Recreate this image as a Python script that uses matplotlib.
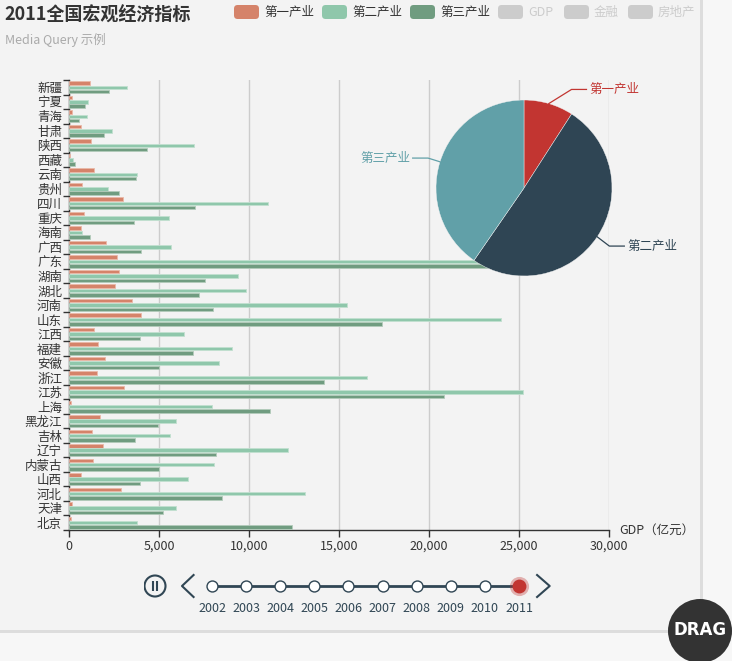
import matplotlib
matplotlib.use('Agg')
import matplotlib.pyplot as plt
from matplotlib.patches import FancyBboxPatch, Rectangle, Circle
import numpy as np

plt.rcParams['font.family'] = ['Noto Sans CJK SC', 'DejaVu Sans']

W, H = 732, 661

# 2011 data, provinces listed bottom -> top
provinces = ['北京', '天津', '河北', '山西', '内蒙古', '辽宁', '吉林', '黑龙江', '上海', '江苏',
             '浙江', '安徽', '福建', '江西', '山东', '河南', '湖北', '湖南', '广东', '广西',
             '海南', '重庆', '四川', '贵州', '云南', '西藏', '陕西', '甘肃', '青海', '宁夏', '新疆']
primary = [136.27, 159.72, 2905.73, 641.42, 1306.3, 1915.57, 1277.44, 1701.5, 124.94, 3064.78,
           1583.04, 2015.31, 1612.24, 1391.07, 3973.85, 3512.24, 2569.3, 2768.03, 2665.2, 2047.23,
           659.23, 844.52, 2983.51, 726.22, 1411.01, 74.47, 1220.9, 678.75, 155.08, 184.14, 1139.03]
secondary = [3752.48, 5928.32, 13126.86, 6635.26, 8037.69, 12152.15, 5611.48, 5962.41, 7927.89, 25203.28,
             16555.58, 8309.38, 9069.2, 6390.55, 24017.11, 15427.08, 9815.94, 9361.99, 26447.38, 5675.32,
             714.5, 5543.04, 11029.13, 2194.33, 3780.32, 208.79, 6935.59, 2377.83, 975.18, 1056.15, 3225.9]
tertiary = [12363.18, 5219.24, 8483.17, 3960.87, 5015.89, 8158.98, 3679.91, 4918.09, 11142.86, 20842.21,
            14180.23, 4975.96, 6878.74, 3921.2, 17370.89, 7991.71, 7247.02, 7539.54, 24097.7, 3998.32,
            1148.93, 3623.81, 7014.04, 2781.29, 3701.79, 322.57, 4355.81, 1963.79, 540.18, 861.92, 2245.12]
sectors = ['第一产业', '第二产业', '第三产业']
legend_names = ['第一产业', '第二产业', '第三产业', 'GDP', '金融', '房地产']
years = [2002, 2003, 2004, 2005, 2006, 2007, 2008, 2009, 2010, 2011]
current_year = 2011
xticks = [0, 5000, 10000, 15000, 20000, 25000, 30000]

bar_colors = ['#d5836a', '#8fc7ab', '#709c80']
bar_edges = ['#eab9a8', '#c2e0d0', '#b3cbbb']
pie_colors = ['#c23531', '#2f4554', '#61a0a8']
off_color = '#cccccc'
dark = '#304654'


def fx(px):
    return px / W


def fy(py):
    return 1 - py / H


fig = plt.figure(figsize=(W / 100, H / 100), dpi=100, facecolor='#f7f7f7')

# panel background and its grey border bands
fig.patches.append(Rectangle((0, fy(630)), fx(700), 630 / H, transform=fig.transFigure,
                             facecolor='#f3f3f3', edgecolor='none', zorder=-10))
fig.patches.append(Rectangle((fx(700), fy(633)), fx(3), 633 / H, transform=fig.transFigure,
                             facecolor='#dddddd', edgecolor='none', zorder=-9))
fig.patches.append(Rectangle((0, fy(633)), fx(703), 3 / H, transform=fig.transFigure,
                             facecolor='#dddddd', edgecolor='none', zorder=-9))

# title
fig.text(fx(4), fy(15), '2011全国宏观经济指标', fontsize=13, fontweight='bold',
         color='#333333', va='center', ha='left')
fig.text(fx(5), fy(40), 'Media Query 示例', fontsize=9, color='#aaaaaa', va='center', ha='left')

# legend
leg_x = [234, 322, 410, 498, 564, 628]
for i, name in enumerate(legend_names):
    col = bar_colors[i] if i < 3 else off_color
    tcol = '#333333' if i < 3 else off_color
    fig.patches.append(FancyBboxPatch((fx(leg_x[i]), fy(19)), fx(25), 14 / H,
                                      boxstyle='round,pad=0,rounding_size=0.005',
                                      transform=fig.transFigure, facecolor=col,
                                      edgecolor='none', mutation_aspect=W / H))
    fig.text(fx(leg_x[i] + 30), fy(12), name, fontsize=9, color=tcol, va='center', ha='left')

# bar chart
ax = fig.add_axes([fx(69), fy(530), fx(540), 450 / H])
ax.set_facecolor('none')
y = np.arange(len(provinces))
for vals, off, col, ec in zip([primary, secondary, tertiary], [0.3, 0.0, -0.3], bar_colors, bar_edges):
    ax.barh(y + off, vals, height=0.24, color=col, edgecolor=ec, linewidth=0.6, zorder=3)

ax.set_xlim(0, 30000)
ax.set_ylim(-0.5, len(provinces) - 0.5)
ax.set_yticks(np.arange(-0.5, len(provinces), 1))
ax.set_yticklabels([])
ax.set_yticks(y, minor=True)
ax.set_yticklabels(provinces, minor=True)
ax.tick_params(axis='y', which='major', length=4, width=1, color='#333333')
ax.tick_params(axis='y', which='minor', length=0, pad=5, labelsize=9, labelcolor='#333333')
ax.set_xticks(xticks)
ax.set_xticklabels(['{:,}'.format(v) for v in xticks])
ax.tick_params(axis='x', length=5, width=1, color='#333333', labelsize=9, labelcolor='#333333', pad=2)
ax.grid(axis='x', color='#cccccc', linewidth=1, zorder=0)
for s in ['top', 'right']:
    ax.spines[s].set_visible(False)
for s in ['left', 'bottom']:
    ax.spines[s].set_color('#333333')
    ax.spines[s].set_linewidth(1)
fig.text(fx(619), fy(530), 'GDP（亿元）', fontsize=9, color='#333333', va='center', ha='left')

# pie of sector totals
totals = [sum(primary), sum(secondary), sum(tertiary)]
pax = fig.add_axes([fx(524 - 88), fy(188 + 88), fx(176), 176 / H])
pax.pie(totals, colors=pie_colors, startangle=90, counterclock=False, radius=1,
        wedgeprops=dict(edgecolor='#f3f3f3', linewidth=0.3))
pax.set_xlim(-1, 1)
pax.set_ylim(-1, 1)
pax.set_aspect('equal')
# label elbows / ends (layout, in radius units)
elbows = [(0.54, 1.12), (0.97, -0.66), (-1.09, 0.34)]
ends = [0.71, 1.14, -1.265]
fr = np.cumsum([0] + totals) / sum(totals)
for i, name in enumerate(sectors):
    mid = np.deg2rad(90 - 360 * (fr[i] + fr[i + 1]) / 2)
    sx, sy = np.cos(mid), np.sin(mid)
    ex, ey = elbows[i]
    pax.plot([sx, ex, ends[i]], [sy, ey, ey], color=pie_colors[i], lw=0.9, clip_on=False)
    if ends[i] > 0:
        pax.text(ends[i] + 0.03, ey, name, color=pie_colors[i], fontsize=9, va='center', ha='left')
    else:
        pax.text(ends[i] - 0.03, ey, name, color=pie_colors[i], fontsize=9, va='center', ha='right')

# timeline control
step = 307 / 9
tax = fig.add_axes([fx(212 - 2 * step), fy(620), fx(12.5 * step), 50 / H])
tax.set_xlim(years[0] - 2, years[0] + 10.5)
tax.set_ylim(0, 1)
tax.axis('off')
tax.plot([years[0], years[-1]], [0.68, 0.68], color=dark, lw=2, zorder=1)
past = [yr for yr in years if yr != current_year]
tax.scatter(past, [0.68] * len(past), s=62, facecolor='white', edgecolor=dark, linewidth=1, zorder=2)
tax.scatter([current_year], [0.68], s=190, color='#c23531', alpha=0.35, linewidth=0, zorder=2)
tax.scatter([current_year], [0.68], s=100, color='#c23531', linewidth=0, zorder=3)
for yr in years:
    tax.text(yr, 0.22, str(yr), fontsize=9, color=dark, ha='center', va='center')
# play/pause button
px0 = years[0] - 57 / step
tax.scatter([px0], [0.68], s=(21 * 0.72) ** 2, facecolor='none', edgecolor=dark, linewidth=1.5)
for dx in (-0.06, 0.06):
    tax.plot([px0 + dx, px0 + dx], [0.58, 0.78], color=dark, lw=1.5, solid_capstyle='butt')
# prev / next arrows
tax.plot([years[0] - 0.54, years[0] - 0.88, years[0] - 0.54], [0.9, 0.68, 0.46], color=dark, lw=1.5)
tax.plot([years[-1] + 0.53, years[-1] + 0.9, years[-1] + 0.53], [0.9, 0.68, 0.46], color=dark, lw=1.5)

# DRAG button (pixel position converted to inches)
fig.patches.append(Circle((700 / 100, (H - 631) / 100), 0.32, transform=fig.dpi_scale_trans,
                          facecolor='#333333', edgecolor='none', zorder=5))
fig.text(fx(700), fy(630), 'DRAG', fontsize=12, fontweight='bold', color='white',
         ha='center', va='center', zorder=6, family='DejaVu Sans')

fig.savefig('out.png', dpi=100, facecolor=fig.get_facecolor())
